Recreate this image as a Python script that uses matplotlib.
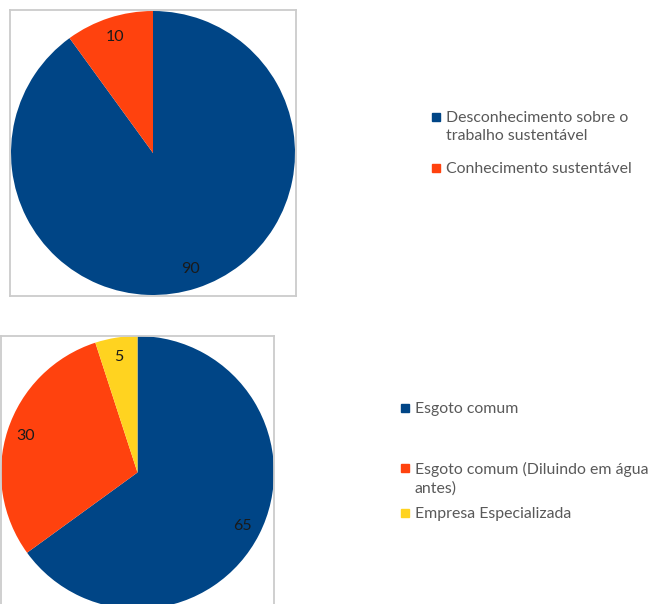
import matplotlib.pyplot as plt
from matplotlib.patches import Rectangle

# dados
labels_1 = ['Desconhecimento sobre o\ntrabalho sustentável', 'Conhecimento sustentável']
values_1 = [90, 10]
labels_2 = ['Esgoto comum', 'Esgoto comum (Diluindo em água\nantes)', 'Empresa Especializada']
values_2 = [65, 30, 5]
cores = ['#004586', '#ff420e', '#ffd320']

plt.rcParams['font.family'] = ['Lato', 'DejaVu Sans']

W, H = 655, 604
fig = plt.figure(figsize=(W / 100, H / 100), dpi=100)


def caixa(x0, y0, lado):
    # posição em pixels (topo-esquerda) -> coordenadas da figura
    return [x0 / W, (H - y0 - lado) / H, lado / W, lado / H]


def pizza(pos, valores, raio):
    ax = fig.add_axes(pos)
    ax.pie(valores, colors=cores[:len(valores)], startangle=90, counterclock=False,
           radius=raio, labels=[str(v) for v in valores], labeldistance=0.86,
           textprops=dict(fontsize=11.5, color='#1a1a1a', ha='center', va='center'),
           wedgeprops=dict(linewidth=0))
    ax.set_xlim(-1, 1)
    ax.set_ylim(-1, 1)
    ax.set_aspect('auto')
    ax.set_frame_on(True)
    ax.set_xticks([])
    ax.set_yticks([])
    for s in ax.spines.values():
        s.set_visible(True)
        s.set_color('#cccccc')
        s.set_linewidth(1.3)
    return ax


pizza(caixa(10, 10, 286), values_1, 0.993)
pizza(caixa(1, 336, 273), values_2, 1.0)


def legenda(labels, x_marca, ys):
    for lab, cor, y in zip(labels, cores, ys):
        fig.patches.append(Rectangle(((x_marca - 4) / W, (H - y - 4) / H), 8 / W, 8 / H,
                                     transform=fig.transFigure, color=cor, figure=fig))
        fig.text((x_marca + 10) / W, (H - y + 6) / H, lab, fontsize=11.4, color='#595959',
                 ha='left', va='top', linespacing=1.38)


legenda(labels_1, 436, [117, 168])
legenda(labels_2, 405, [408, 468, 513])

fig.savefig('out.png', dpi=100)
